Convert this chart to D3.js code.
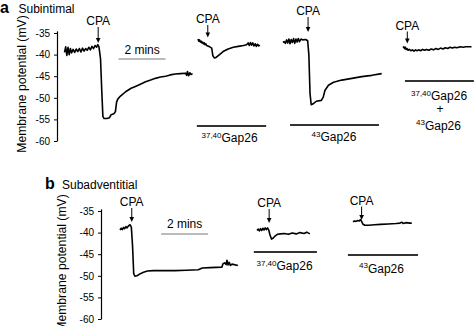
<!DOCTYPE html>
<html><head><meta charset="utf-8">
<script src="https://cdn.jsdelivr.net/npm/d3@7"></script>
<style>body{margin:0;background:#fff}svg{display:block}text{font-family:"Liberation Sans",Arial,Helvetica,sans-serif;fill:#000}</style>
</head><body>
<svg id="c" width="475" height="326"></svg>
<script>
// ---- data: [time (s), membrane potential (mV)] ----
const yTicks = [-35, -40, -45, -50, -55, -60];
const timeBarSeconds = 120;
const subintimalControl = [[0,-39.5],[3,-38.2],[6,-40.2],[9,-38.3],[12,-40.0],[15,-38.6],[18,-39.6],[22,-38.8],[26,-39.5],[30,-38.7],[34,-39.3],[38,-38.6],[42,-39.4],[46,-38.5],[50,-39.2],[54,-38.6],[58,-39.0],[62,-38.3],[66,-38.9],[70,-38.1],[74,-38.6],[78,-37.9],[82,-38.3],[85,-37.7],[88,-38.2],[92,-41],[95,-48],[98,-54.3],[101,-54.8],[108,-54.8],[115,-54.6],[119,-53.9],[126,-53.7],[130,-53.2],[133,-51],[136,-50.3],[143,-49.6],[156,-48.6],[170,-47.8],[181,-47.4],[195,-46.8],[207,-46.3],[220,-45.9],[232,-45.5],[245,-45.2],[258,-45.0],[270,-44.7],[283,-44.5],[296,-44.4],[309,-44.3],[312,-44.8],[314,-43.9],[317,-44.9],[320,-44.2],[323,-44.6],[327,-44.4]];
const subintimalGap3740 = [[0,-36.4],[2,-36.9],[4,-36.6],[6,-37.1],[8,-36.9],[10,-37.3],[12,-37.1],[14,-37.5],[16,-37.3],[18,-37.7],[20,-37.5],[22,-37.9],[25,-38.0],[30,-38.2],[35,-38.5],[38,-40.3],[42,-40.8],[47,-40.6],[55,-40.0],[64,-39.3],[77,-38.7],[90,-38.3],[103,-38.1],[116,-37.9],[124,-37.7],[128,-37.3],[131,-37.9],[134,-37.2],[137,-37.8],[140,-37.3],[143,-38.0],[146,-37.5],[149,-38.1],[152,-37.6],[155,-38.0],[158,-37.8]];
const subintimalGap43 = [[0,-37.2],[3,-37.0],[6,-37.4],[9,-36.6],[12,-37.3],[15,-36.4],[18,-37.5],[21,-36.5],[24,-37.2],[27,-36.3],[30,-37.4],[33,-36.4],[36,-37.1],[39,-36.3],[42,-37.0],[46,-36.4],[50,-36.6],[58,-36.5],[63,-36.8],[66,-40],[69,-49],[72,-51.6],[77,-51.4],[85,-50.8],[98,-50.6],[103,-49.8],[107,-48.3],[116,-47.1],[129,-46.4],[150,-45.9],[176,-45.5],[201,-45.1],[227,-44.8],[252,-44.4]];
const subintimalBoth = [[0,-38.4],[2,-38.2],[4,-38.6],[6,-38.3],[8,-38.8],[10,-38.6],[13,-39.0],[16,-38.8],[20,-39.1],[24,-38.9],[28,-39.2],[32,-38.9],[36,-39.1],[40,-38.9],[45,-39.1],[50,-38.8],[55,-39.0],[60,-38.8],[66,-39.0],[72,-38.7],[78,-38.9],[84,-38.6],[90,-38.8],[96,-38.5],[102,-38.7],[108,-38.4],[114,-38.6],[120,-38.3],[126,-38.5],[132,-38.3],[138,-38.4],[146,-38.2],[154,-38.3],[160,-38.2],[175,-38.2]];
const subadvControl = [[0,-39.4],[3,-39.0],[6,-39.3],[9,-38.8],[12,-39.1],[15,-38.6],[18,-38.9],[22,-38.4],[26,-38.2],[29,-38.8],[32,-43],[35,-49.5],[38,-50.1],[43,-50.0],[47,-49.8],[52,-49.5],[60,-49.2],[70,-48.9],[85,-48.8],[110,-48.8],[140,-48.8],[170,-48.7],[200,-48.6],[210,-48.2],[230,-48.1],[260,-48.0],[263,-47.2],[267,-47.0],[271,-47.4],[273,-46.4],[276,-47.5],[279,-46.9],[282,-47.6],[286,-47.3],[301,-47.6]];
const subadvGap3740 = [[0,-39.5],[3,-39.2],[6,-39.6],[9,-39.1],[12,-39.5],[15,-39.0],[18,-39.4],[21,-38.9],[24,-39.3],[27,-38.9],[30,-39.4],[33,-40.5],[37,-41.5],[41,-41.3],[46,-40.8],[52,-40.4],[60,-40.3],[70,-40.2],[80,-40.4],[90,-40.1],[100,-40.3],[110,-40.0],[120,-40.2],[127,-39.9],[135,-40.3]];
const subadvGap43 = [[0,-37.5],[4,-37.3],[8,-37.4],[12,-37.2],[16,-37.3],[19,-37.0],[22,-37.4],[25,-38.0],[30,-38.3],[40,-38.3],[55,-38.2],[70,-38.1],[90,-38.0],[110,-37.9],[120,-37.8],[125,-37.6],[128,-37.9],[135,-37.7],[145,-37.8],[150,-37.8]];
// CPA application times (s, relative to each trace start)
const cpaTimes = [86, 25, 64, 11, 30, 31, 22];
// Drug application periods (s, relative to trace start)
const drugPeriods = [[-3,174],[18,245],[5,181],[-8,153],[-13,166]];
const drugSup = ["37,40", "43", "37,40", "37,40", "43"];
const panelTitles = ["Subintimal", "Subadventitial"];

// ---- layout ----
const svg = d3.select("#c");
const F = '"Liberation Sans",Arial,Helvetica,sans-serif';
const t = d3.scaleLinear().domain([0, 120]).range([0, 47]);
const yA = d3.scaleLinear().domain([-60, -34.5]).range([141, 30.84]);
const yB = d3.scaleLinear().domain([-60, -34.5]).range([319, 208.84]);

function axis(y, x) {
  const g = svg.append("g").attr("transform", `translate(${x},0)`)
    .call(d3.axisLeft(y).tickValues(yTicks).tickSize(3).tickSizeOuter(0).tickPadding(4).tickFormat(d => String(d)));
  g.select(".domain").attr("stroke", "#000").attr("stroke-width", 1.2);
  g.selectAll(".tick line").attr("stroke", "#000").attr("stroke-width", 1);
  g.selectAll(".tick text").attr("font-size", 10).attr("font-family", F).attr("fill", "#000");
}
axis(yA, 57);
axis(yB, 101);

function txt(x, y, s, opts = {}) {
  return svg.append("text").attr("x", x).attr("y", y).attr("font-size", opts.size || 12)
    .attr("font-weight", opts.weight || "normal").attr("text-anchor", opts.anchor || "start").text(s);
}
txt(0, 13, "a", {size: 16, weight: "bold"});
txt(18.5, 13, panelTitles[0]);
txt(45, 188.5, "b", {size: 16, weight: "bold"});
txt(62, 189, panelTitles[1]);
svg.append("text").attr("transform", "translate(26,84) rotate(-90)").attr("text-anchor", "middle")
  .attr("font-size", 12.2).text("Membrane potential (mV)");
svg.append("text").attr("transform", "translate(66,263) rotate(-90)").attr("text-anchor", "middle")
  .attr("font-size", 12.2).text("Membrane potential (mV)");

const traces = [
  {d: subintimalControl, x0: 64.5, y: yA, cpaY: 25, arrowEnd: 43},
  {d: subintimalGap3740, x0: 198, y: yA, cpaY: 23, arrowEnd: 37.5},
  {d: subintimalGap43, x0: 283, y: yA, cpaY: 15, arrowEnd: 32},
  {d: subintimalBoth, x0: 403, y: yA, cpaY: 29.5, arrowEnd: 43.5},
  {d: subadvControl, x0: 120, y: yB, cpaY: 206, arrowEnd: 222},
  {d: subadvGap3740, x0: 257, y: yB, cpaY: 207, arrowEnd: 223},
  {d: subadvGap43, x0: 353, y: yB, cpaY: 204.5, arrowEnd: 220}
];

traces.forEach((tr, i) => {
  const line = d3.line().x(d => tr.x0 + t(d[0])).y(d => tr.y(d[1]));
  svg.append("path").attr("d", line(tr.d)).attr("fill", "none").attr("stroke", "#000")
    .attr("stroke-width", 1.6).attr("stroke-linejoin", "round");
  const ax = tr.x0 + t(cpaTimes[i]);
  txt(ax, tr.cpaY, "CPA", {anchor: "middle"});
  svg.append("line").attr("x1", ax).attr("x2", ax).attr("y1", tr.cpaY + 2).attr("y2", tr.arrowEnd - 3)
    .attr("stroke", "#000").attr("stroke-width", 1);
  svg.append("path").attr("d", `M${ax - 2.3},${tr.arrowEnd - 5} L${ax + 2.3},${tr.arrowEnd - 5} L${ax},${tr.arrowEnd} Z`)
    .attr("fill", "#000");
});

// time scale bars
const timeBars = [{x0: 64.5, start: 138, y: 59, ty: 53.5}, {x0: 120, start: 105, y: 234, ty: 228}];
timeBars.forEach(b => {
  const x1 = b.x0 + t(b.start), x2 = b.x0 + t(b.start + timeBarSeconds);
  svg.append("line").attr("x1", x1).attr("x2", x2).attr("y1", b.y).attr("y2", b.y)
    .attr("stroke", "#777").attr("stroke-width", 1);
  txt((x1 + x2) / 2, b.ty, "2 mins", {anchor: "middle"});
});

// drug bars
const drugLayout = [
  {tr: 1, y: 126, lx: 201.5, ly: 142},
  {tr: 2, y: 125, lx: 311.5, ly: 141},
  {tr: 3, y: 81, lx: 411, ly: 100},
  {tr: 5, y: 252, lx: 256.5, ly: 270},
  {tr: 6, y: 255, lx: 359, ly: 272.5}
];
function drugLabel(x, y, sup) {
  const tx = svg.append("text").attr("x", x).attr("y", y).attr("font-size", 12);
  tx.append("tspan").attr("font-size", 8).attr("dy", -4.5).text(sup);
  tx.append("tspan").attr("dy", 4.5).text("Gap26");
}
drugLayout.forEach((l, i) => {
  const tr = traces[l.tr];
  const p = drugPeriods[i];
  svg.append("line").attr("x1", tr.x0 + t(p[0])).attr("x2", tr.x0 + t(p[1])).attr("y1", l.y).attr("y2", l.y)
    .attr("stroke", "#333").attr("stroke-width", 2);
  drugLabel(l.lx, l.ly, drugSup[i]);
});
txt(440, 113, "+", {anchor: "middle"});
drugLabel(416, 129.5, "43");
</script>
</body></html>
